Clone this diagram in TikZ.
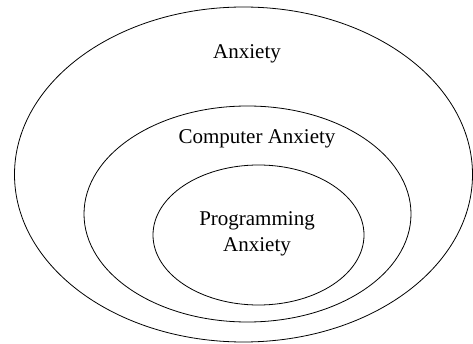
\documentclass[tikz,border=0pt]{standalone}
\usepackage{fontspec}
\setmainfont{Liberation Serif}
\usepackage{tikz}
\usetikzlibrary{shapes.geometric}

\begin{document}
\begin{tikzpicture}[x=1pt,y=-1pt,
  ring/.style={draw, ellipse, line width=0.8pt, inner sep=0pt},
  lbl/.style={font=\fontsize{21}{26}\selectfont, align=center}]
  \useasboundingbox (0,0) rectangle (473,344);
  \node[ring, minimum width=458pt, minimum height=335pt] (anx) at (243.5,174.5) {};
  \node[ring, minimum width=327pt, minimum height=216pt] (comp) at (247.5,214) {};
  \node[ring, minimum width=211pt, minimum height=140pt] (prog) at (258.5,235) {};
  \node[lbl] (anxl) at (247,54) {Anxiety};
  \node[lbl] (compl) at (257,139) {Computer Anxiety};
  \node[lbl] (progl) at (257,234) {Programming\\Anxiety};
\end{tikzpicture}
\end{document}
